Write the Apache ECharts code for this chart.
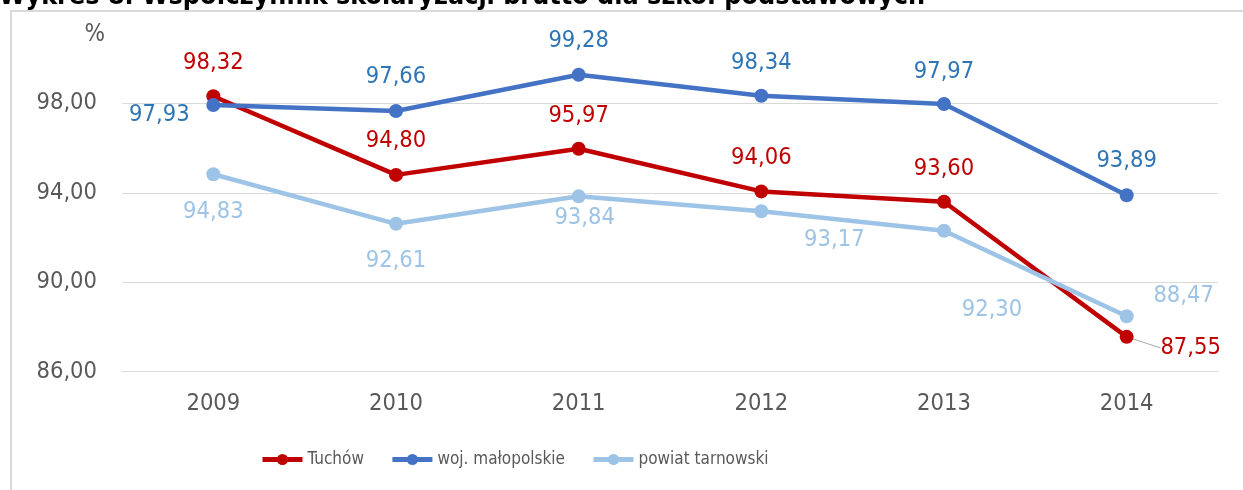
<!DOCTYPE html>
<html>
<head>
<meta charset="utf-8">
<script src="https://cdn.jsdelivr.net/npm/echarts@6/dist/echarts.min.js"></script>
<style>
  html, body { margin: 0; padding: 0; background: #fff; }
  #chart { width: 1243px; height: 490px; }
</style>
</head>
<body>
<div id="chart"></div>
<script>
const categories = ['2009', '2010', '2011', '2012', '2013', '2014']
const seriesNames = ['Tuchów', 'woj. małopolskie', 'powiat tarnowski']
const tuchow = [98.32, 94.80, 95.97, 94.06, 93.60, 87.55]
const malopolskie = [97.93, 97.66, 99.28, 98.34, 97.97, 93.89]
const tarnowski = [94.83, 92.61, 93.84, 93.17, 92.30, 88.47]
const yTicks = { min: 86, max: 100, interval: 4 }

// label placement (centre of label relative to the point), as in the source chart
const tuchowLabelPos = [[0, -33], [0, -34], [0, -33], [0, -34], [0, -33], [64, 11]]
const malopolskieLabelPos = [[-54, 10], [0, -34], [0, -34], [0, -33], [0, -32], [0, -34]]
const tarnowskiLabelPos = [[0, 38], [0, 37], [6, 22], [73, 29], [48, 79], [57, -20]]

const FONT = "'DejaVu Sans Condensed', 'Liberation Sans', sans-serif"
const fmt = v => v.toFixed(2).replace('.', ',')

// leaderIdx: the one label that gets a thin leader line back to its point
const makeSeries = (name, values, offsets, color, labelColor, leaderIdx) => ({
  name,
  type: 'line',
  data: values.map((v, i) => (i === leaderIdx
    ? { value: v, labelLine: { show: true, lineStyle: { color: '#A6A6A6', width: 1 } } }
    : { value: v })),
  symbol: 'circle',
  symbolSize: 14,
  lineStyle: { color, width: 4.5 },
  itemStyle: { color },
  label: {
    show: true,
    position: 'inside',
    formatter: p => fmt(p.value),
    color: labelColor,
    fontFamily: FONT,
    fontSize: 23.5
  },
  labelLine: { show: false },
  labelLayout: p => ({ dx: offsets[p.dataIndex][0], dy: offsets[p.dataIndex][1] }),
  emphasis: { disabled: true },
  animation: false
})

const chart = echarts.init(document.getElementById('chart'))
chart.setOption({
  backgroundColor: '#fff',
  graphic: [
    {
      type: 'rect',
      shape: { x: 11, y: 11, width: 1400, height: 700 },
      style: { fill: 'none', stroke: '#D9D9D9', lineWidth: 2 },
      silent: true
    },
    {
      type: 'text',
      x: -1,
      y: -16,
      style: {
        text: 'Wykres 8. Współczynnik skolaryzacji brutto dla szkół podstawowych',
        font: "bold 26.7px 'DejaVu Sans Condensed', 'Liberation Sans', sans-serif",
        fill: '#000'
      },
      silent: true
    }
  ],
  grid: { left: 122, right: 25, top: 58.7, bottom: 118.5 },
  legend: {
    left: 255,
    top: 446,
    itemWidth: 40,
    itemHeight: 14,
    itemGap: 26,
    lineStyle: { width: 5 },
    textStyle: { color: '#595959', fontFamily: FONT, fontSize: 17 },
    data: seriesNames
  },
  xAxis: {
    type: 'category',
    data: categories,
    boundaryGap: true,
    axisLine: { lineStyle: { color: '#D9D9D9', width: 1 } },
    axisTick: { show: false },
    axisLabel: { color: '#595959', fontFamily: FONT, fontSize: 23.5, margin: 20 }
  },
  yAxis: {
    type: 'value',
    min: yTicks.min,
    max: yTicks.max,
    interval: yTicks.interval,
    name: '%',
    nameLocation: 'end',
    nameGap: 12,
    nameTextStyle: { color: '#595959', fontFamily: FONT, fontSize: 24, align: 'right', padding: [0, 17, 0, 0] },
    axisLine: { show: false },
    axisTick: { show: false },
    axisLabel: {
      color: '#595959',
      fontFamily: FONT,
      fontSize: 23.5,
      margin: 25,
      showMaxLabel: false,
      formatter: v => (v === yTicks.max ? '' : fmt(v))
    },
    splitLine: { showMaxLine: false, lineStyle: { color: '#D9D9D9', width: 1 } }
  },
  series: [
    makeSeries(seriesNames[0], tuchow, tuchowLabelPos, '#C00000', '#C00000', 5),
    makeSeries(seriesNames[1], malopolskie, malopolskieLabelPos, '#4472C4', '#2E75B6', -1),
    makeSeries(seriesNames[2], tarnowski, tarnowskiLabelPos, '#9DC3E6', '#9DC3E6', -1)
  ]
})
</script>
</body>
</html>
